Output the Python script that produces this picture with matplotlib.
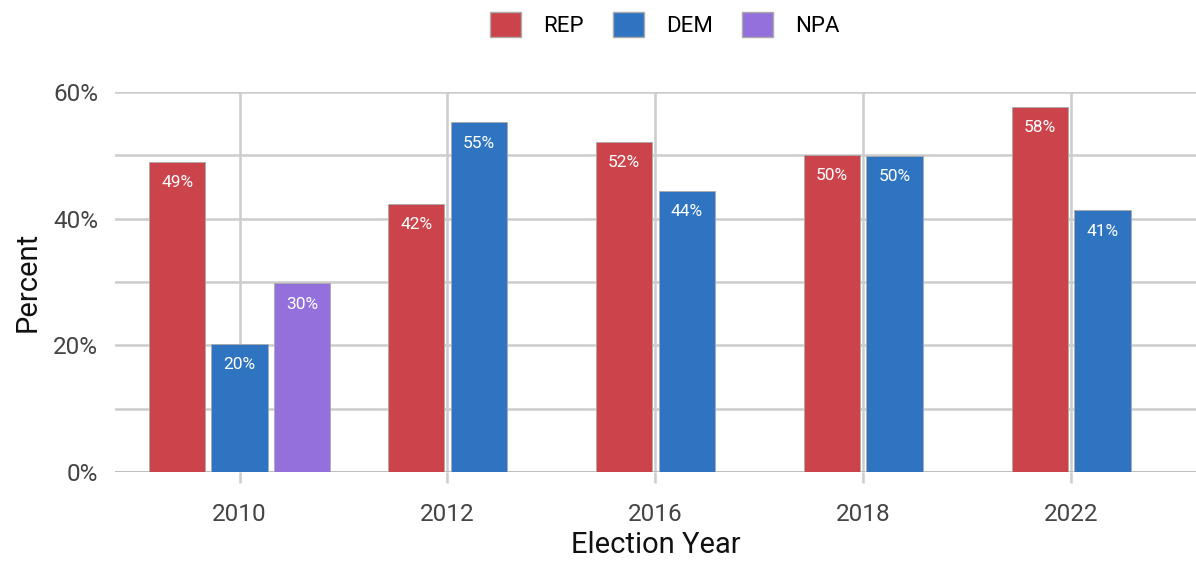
import numpy as np
import matplotlib.pyplot as plt
from matplotlib.patches import Patch

plt.rcParams['font.family'] = ['Roboto', 'DejaVu Sans']

years = ["2010", "2012", "2016", "2018", "2022"]
rep = [49.0, 42.3, 52.1, 50.1, 57.7]
dem = [20.2, 55.2, 44.4, 49.9, 41.3]
npa = [29.8, None, None, None, None]

series = [("REP", rep, "#cc444b"), ("DEM", dem, "#2f74c0"), ("NPA", npa, "#9370db")]

fig = plt.figure(figsize=(11.96, 5.63), dpi=100)
ax = fig.add_axes([0.096, 0.1616, 0.904, 0.675])

width = 0.27
step = 0.30
for i, yr in enumerate(years):
    present = [(name, vals[i], col) for name, vals, col in series if vals[i] is not None]
    n = len(present)
    for j, (name, v, col) in enumerate(present):
        x = i + (j - (n - 1) / 2) * step
        ax.bar(x, v, width=width, color=col, edgecolor="#aaaaaa", linewidth=0.6, zorder=3)
        ax.annotate(f"{round(v)}%", (x, v), xytext=(0, -15), textcoords="offset points",
                    ha="center", va="center", color="white", fontsize=12.5, zorder=4)

ax.set_xlim(-0.6, 4.6)
ax.set_ylim(0, 60)
ax.set_xticks(range(len(years)))
ax.set_xticklabels(years)
ax.set_yticks([0, 20, 40, 60])
ax.set_yticklabels(["0%", "20%", "40%", "60%"])
ax.set_yticks([10, 30, 50], minor=True)
ax.grid(True, which="both", axis="y", color="#cccccc", linewidth=1.8, zorder=0)
ax.grid(True, which="major", axis="x", color="#cccccc", linewidth=1.8, zorder=0)
ax.set_axisbelow(True)
for s in ax.spines.values():
    s.set_visible(False)
ax.axhline(0, color="#bbbbbb", linewidth=2, zorder=1)
ax.tick_params(axis="y", which="both", length=0, labelsize=17.5, labelcolor="#444444", pad=12)
ax.tick_params(axis="x", length=8, width=1.8, color="#cccccc", labelsize=17.5,
               labelcolor="#444444", pad=14)

ax.set_ylabel("Percent", fontsize=21, color="#111111", labelpad=8)
ax.set_xlabel("Election Year", fontsize=21, color="#111111", labelpad=4)

handles = [Patch(facecolor=c, edgecolor="#aaaaaa", label=n) for n, _, c in series]
fig.legend(handles=handles, loc="upper center", bbox_to_anchor=(0.556, 1.015), ncol=3,
           frameon=False, fontsize=16, handlelength=1.4, handleheight=1.4,
           columnspacing=1.3, handletextpad=1.0)

fig.savefig("out.png", dpi=100)
